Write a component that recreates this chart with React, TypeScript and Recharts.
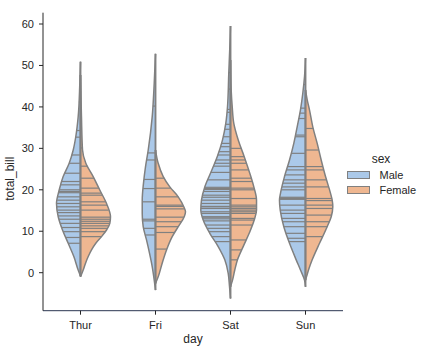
import { Area, ComposedChart, ReferenceLine, XAxis, YAxis } from "recharts";

const DAYS = ["Thur", "Fri", "Sat", "Sun"];
const DAY_TICKS = [0, 1, 2, 3];
const Y_TICKS = [0, 10, 20, 30, 40, 50, 60];
const SEXES = ["Male", "Female"];

// density outline of each half: [total_bill, half width in category units]
const THUR_MALE = [
  [-0.8, 0], [0.65, 0.031], [3.9, 0.089], [7.1, 0.164], [10.3, 0.24], [13.5, 0.297],
  [16.7, 0.32], [19.95, 0.284], [23.2, 0.231], [26.4, 0.151], [29.6, 0.097],
  [32.8, 0.063], [37.6, 0.031], [45.7, 0.009], [50.9, 0],
];
const THUR_FEMALE = [
  [-1.0, 0], [0.65, 0.036], [2.3, 0.067], [3.9, 0.103], [5.5, 0.147], [7.1, 0.204],
  [8.7, 0.28], [10.3, 0.347], [11.9, 0.391], [13.5, 0.4], [16.7, 0.347],
  [19.95, 0.257], [23.2, 0.169], [26.4, 0.071], [29.6, 0.027], [37.6, 0.013], [47.7, 0],
];
const FRI_MALE = [
  [-4.2, 0], [-1.8, 0.017], [1.45, 0.044], [4.7, 0.08], [7.9, 0.12], [11.1, 0.164],
  [14.3, 0.177], [17.5, 0.177], [21.6, 0.16], [25.6, 0.133], [29.6, 0.097],
  [37.6, 0.044], [45.7, 0.017], [52.8, 0],
];
const FRI_FEMALE = [
  [-2.6, 0], [-1.0, 0.036], [2.3, 0.089], [5.5, 0.147], [8.7, 0.223], [11.1, 0.303],
  [13.5, 0.383], [14.7, 0.4], [15.9, 0.377], [18.3, 0.303], [20.7, 0.191],
  [23.2, 0.103], [26.4, 0.036], [29.6, 0],
];
const SAT_MALE = [
  [-6.2, 0], [-3.4, 0.013], [-0.1, 0.031], [3.1, 0.076], [6.3, 0.164], [9.5, 0.276],
  [12.7, 0.364], [15.1, 0.396], [17.5, 0.387], [20.7, 0.343], [24.0, 0.267],
  [28.0, 0.177], [32.0, 0.107], [36.0, 0.063], [40.0, 0.04], [48.1, 0.023],
  [54.0, 0.01], [59.5, 0],
];
const SAT_FEMALE = [
  [-3.4, 0], [-1.8, 0.027], [0.65, 0.057], [3.1, 0.093], [6.3, 0.169], [9.5, 0.249],
  [12.7, 0.316], [15.1, 0.347], [17.5, 0.347], [20.7, 0.311], [24.0, 0.257],
  [28.0, 0.183], [32.0, 0.103], [36.0, 0.044], [40.0, 0.023], [44.1, 0.009], [51.3, 0],
];
const SUN_MALE = [
  [-3.4, 0], [-1.8, 0.013], [0.65, 0.067], [3.1, 0.124], [7.1, 0.213], [11.1, 0.289],
  [15.1, 0.337], [17.5, 0.347], [19.2, 0.333], [23.2, 0.28], [27.2, 0.213],
  [31.2, 0.156], [35.2, 0.111], [39.3, 0.067], [43.3, 0.036], [47.3, 0.013], [51.8, 0],
];
const SUN_FEMALE = [
  [-1.8, 0], [-1.0, 0.013], [0.65, 0.04], [3.1, 0.089], [7.1, 0.187], [11.1, 0.289],
  [13.5, 0.343], [15.9, 0.364], [17.5, 0.356], [19.2, 0.333], [23.2, 0.267],
  [27.2, 0.209], [31.2, 0.156], [35.2, 0.097], [39.3, 0.053], [41.7, 0.023], [44.1, 0],
];

// observations drawn as sticks
const THUR_MALE_STICKS = [
  7.1, 8.5, 9.9, 10.9, 11.9, 12.9, 13.7, 14.5, 15.1, 15.9, 16.7, 17.5, 18.3, 19.3,
  19.6, 20.0, 21.2, 22.0, 24.0, 26.4, 28.4, 32.7, 34.3, 41.2,
];
const THUR_FEMALE_STICKS = [
  8.7, 9.9, 10.7, 11.3, 11.9, 12.4, 12.9, 13.4, 15.1, 16.3, 17.1, 18.7, 19.2, 20.4,
  22.8, 25.7, 30.1, 43.1,
];
const FRI_MALE_STICKS = [9.1, 10.7, 12.5, 12.9, 17.1, 20.3, 22.5, 27.2, 28.9, 40.2];
const FRI_FEMALE_STICKS = [5.7, 9.7, 11.1, 12.3, 13.4, 15.4, 16.0, 16.3, 18.3, 20.4, 22.8];
const SAT_MALE_STICKS = [
  7.5, 8.7, 9.9, 10.7, 11.5, 12.5, 13.0, 13.4, 13.5, 14.3, 14.7, 15.5, 15.9, 16.0, 16.7,
  17.5, 18.2, 18.7, 19.6, 20.1, 20.3, 20.6, 22.4, 24.2, 25.7, 26.4, 27.2, 28.4, 29.2,
  30.4, 31.2, 32.8, 34.6, 35.8, 38.7, 39.4, 44.3, 48.3, 50.8,
];
const SAT_FEMALE_STICKS = [
  3.1, 5.5, 7.9, 11.5, 12.7, 13.1, 14.3, 14.7, 15.1, 15.5, 15.9, 16.3, 17.9, 20.0,
  20.4, 22.0, 22.8, 24.8, 26.4, 27.2, 28.0, 30.0, 44.3,
];
const SUN_MALE_STICKS = [
  7.5, 8.3, 9.5, 11.1, 12.3, 13.1, 14.3, 15.1, 16.3, 17.7, 17.9, 18.0, 18.2, 20.0,
  20.7, 21.6, 22.4, 23.6, 24.8, 25.6, 28.8, 32.8, 33.2, 37.2, 38.5, 39.7, 45.4, 48.2,
];
const SUN_FEMALE_STICKS = [
  8.7, 11.1, 12.3, 13.9, 15.5, 16.3, 17.4, 17.9, 20.7, 22.4, 24.8, 25.6, 29.6, 34.8,
];

const MALE_FILL = "#abc9e9";
const FEMALE_FILL = "#efb791";
const EDGE = "#808080";
const INK = "#262626";
const FONT = "'Liberation Sans', Arial, sans-serif";

type Half = { key: string; day: number; side: number; profile: number[][]; sticks: number[] };

const HALVES: Half[] = [
  { key: "thurM", day: 0, side: -1, profile: THUR_MALE, sticks: THUR_MALE_STICKS },
  { key: "thurF", day: 0, side: 1, profile: THUR_FEMALE, sticks: THUR_FEMALE_STICKS },
  { key: "friM", day: 1, side: -1, profile: FRI_MALE, sticks: FRI_MALE_STICKS },
  { key: "friF", day: 1, side: 1, profile: FRI_FEMALE, sticks: FRI_FEMALE_STICKS },
  { key: "satM", day: 2, side: -1, profile: SAT_MALE, sticks: SAT_MALE_STICKS },
  { key: "satF", day: 2, side: 1, profile: SAT_FEMALE, sticks: SAT_FEMALE_STICKS },
  { key: "sunM", day: 3, side: -1, profile: SUN_MALE, sticks: SUN_MALE_STICKS },
  { key: "sunF", day: 3, side: 1, profile: SUN_FEMALE, sticks: SUN_FEMALE_STICKS },
];

// stick reaches the outline of its half at that value
function widthAt(profile: number[][], v: number) {
  for (let i = 1; i < profile.length; i++) {
    const [v0, w0] = profile[i - 1];
    const [v1, w1] = profile[i];
    if (v >= v0 && v <= v1) return w0 + ((w1 - w0) * (v - v0)) / (v1 - v0);
  }
  return 0;
}

const rows: Record<string, any>[] = [];
HALVES.forEach((h) => {
  h.profile.forEach(([v, w]) => {
    rows.push({ y: v, [h.key]: [h.day, h.day + h.side * w] });
  });
});
rows.forEach((r) => {
  HALVES.forEach((h) => {
    if (!r[h.key]) r[h.key] = [null, null];
  });
});
rows.sort((a, b) => a.y - b.y);

export default function App() {
  return (
    <div style={{ position: "absolute", left: 0, top: 0, width: 424, height: 352, fontFamily: FONT }}>
      <ComposedChart
        width={424}
        height={352}
        data={rows}
        layout="vertical"
        margin={{ top: 12.7, right: 81, bottom: 11.3, left: 10 }}
      >
        <XAxis
          type="number"
          domain={[-0.5, 3.5]}
          ticks={DAY_TICKS}
          tickFormatter={(i) => DAYS[i]}
          allowDataOverflow
          height={30}
          stroke={INK}
          axisLine={{ stroke: "#2b3550" }}
          tickSize={4}
          tickMargin={6}
          tick={{ fill: INK, fontSize: 11, fontFamily: FONT }}
          label={{
            content: ({ viewBox }: any) => (
              <text
                x={viewBox.x + viewBox.width / 2}
                y={viewBox.y + 32}
                textAnchor="middle"
                fill={INK}
                fontSize={12}
                fontFamily={FONT}
              >
                day
              </text>
            ),
          }}
        />
        <YAxis
          type="number"
          dataKey="y"
          domain={[-9.17, 62.73]}
          ticks={Y_TICKS}
          reversed
          allowDataOverflow
          width={33}
          stroke={INK}
          tickSize={4}
          tickMargin={5}
          tick={{ fill: INK, fontSize: 11, fontFamily: FONT }}
          label={{
            content: ({ viewBox }: any) => {
              const x = viewBox.x + 4;
              const y = viewBox.y + viewBox.height / 2 + 17;
              return (
                <text
                  x={x}
                  y={y}
                  transform={`rotate(-90, ${x}, ${y})`}
                  textAnchor="middle"
                  fill={INK}
                  fontSize={12}
                  fontFamily={FONT}
                >
                  total_bill
                </text>
              );
            },
          }}
        />
        {HALVES.map((h) => (
          <Area
            key={h.key}
            dataKey={h.key}
            type="monotone"
            connectNulls
            fill={h.side < 0 ? MALE_FILL : FEMALE_FILL}
            fillOpacity={1}
            stroke={EDGE}
            strokeWidth={1.5}
            dot={false}
            activeDot={false}
            isAnimationActive={false}
          />
        ))}
        {HALVES.flatMap((h) =>
          h.sticks.map((v, i) => (
            <ReferenceLine
              key={`${h.key}-s${i}`}
              segment={[
                { x: h.day, y: v },
                { x: h.day + h.side * widthAt(h.profile, v), y: v },
              ]}
              stroke={EDGE}
              strokeWidth={1.2}
              ifOverflow="visible"
            />
          ))
        )}
        {HALVES.map((h) => (
          <ReferenceLine
            key={`${h.key}-c`}
            segment={[
              { x: h.day, y: h.profile[0][0] },
              { x: h.day, y: h.profile[h.profile.length - 1][0] },
            ]}
            stroke={EDGE}
            strokeWidth={1.5}
            ifOverflow="visible"
          />
        ))}
      </ComposedChart>
      <div
        style={{
          position: "absolute",
          left: 346,
          top: 152,
          width: 70,
          textAlign: "center",
          fontSize: 12,
          color: INK,
        }}
      >
        sex
      </div>
      {SEXES.map((s, i) => (
        <div
          key={s}
          style={{
            position: "absolute",
            left: 346.5,
            top: 168 + i * 15,
            display: "flex",
            alignItems: "center",
            height: 14,
            fontSize: 11,
            color: INK,
          }}
        >
          <span
            style={{
              display: "inline-block",
              boxSizing: "border-box",
              width: 23,
              height: 8,
              background: i === 0 ? MALE_FILL : FEMALE_FILL,
              border: `1px solid ${EDGE}`,
              marginRight: 10,
            }}
          />
          {s}
        </div>
      ))}
    </div>
  );
}
